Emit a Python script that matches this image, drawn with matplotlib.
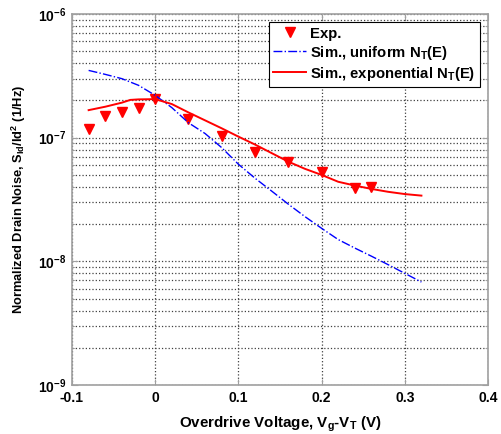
import matplotlib
matplotlib.use("Agg")
import matplotlib.pyplot as plt
from matplotlib.ticker import LogLocator, FixedLocator, NullFormatter

# experimental points
exp_v = [-0.08, -0.06, -0.04, -0.02, 0.0, 0.04, 0.08, 0.12, 0.16, 0.20, 0.24, 0.26]
exp_s = [1.17e-7, 1.5e-7, 1.62e-7, 1.73e-7, 2.05e-7, 1.41e-7, 1.03e-7, 7.6e-8, 6.3e-8, 5.3e-8, 3.94e-8, 4.0e-8]

# simulation, uniform trap distribution
uni_v = [-0.08, -0.06, -0.04, -0.02, 0.0, 0.02, 0.04, 0.06, 0.08, 0.10, 0.12, 0.14, 0.16,
         0.18, 0.20, 0.22, 0.24, 0.26, 0.28, 0.30, 0.32]
uni_s = [3.5e-7, 3.25e-7, 3.0e-7, 2.65e-7, 2.2e-7, 1.75e-7, 1.32e-7, 1.08e-7, 8.3e-8, 6.1e-8,
         4.7e-8, 3.7e-8, 2.9e-8, 2.3e-8, 1.85e-8, 1.5e-8, 1.28e-8, 1.1e-8, 9.4e-9, 8.0e-9, 6.8e-9]

# simulation, exponential trap distribution
expo_v = [-0.08, -0.06, -0.04, -0.03, -0.02, 0.0, 0.02, 0.04, 0.06, 0.08, 0.10, 0.12, 0.14,
          0.16, 0.18, 0.20, 0.22, 0.24, 0.26, 0.28, 0.30, 0.32]
expo_s = [1.67e-7, 1.78e-7, 1.92e-7, 2.02e-7, 2.04e-7, 2.05e-7, 1.87e-7, 1.6e-7, 1.38e-7,
          1.19e-7, 1.02e-7, 8.8e-8, 7.5e-8, 6.4e-8, 5.6e-8, 5.0e-8, 4.4e-8, 4.1e-8, 3.85e-8,
          3.65e-8, 3.5e-8, 3.4e-8]

x_ticks = [-0.1, 0, 0.1, 0.2, 0.3, 0.4]
x_ticklabels = ["-0.1", "0", "0.1", "0.2", "0.3", "0.4"]

plt.rcParams.update({
    "font.family": "Liberation Sans",
    "font.weight": "bold",
    "mathtext.fontset": "custom",
    "mathtext.rm": "Liberation Sans:bold",
    "mathtext.it": "Liberation Sans:bold",
    "mathtext.bf": "Liberation Sans:bold",
    "mathtext.default": "regular",
})

fig = plt.figure(figsize=(5.01, 4.34), dpi=100)
fig.patch.set_facecolor("white")
ax = fig.add_axes([0.1437, 0.1129, 0.8303, 0.8548])

ax.set_yscale("log")
ax.set_xlim(-0.1, 0.4)
ax.set_ylim(1e-9, 1e-6)

ax.plot(exp_v, exp_s, linestyle="none", marker="v", color="#ff0000", markersize=7,
        label="Exp.")
ax.plot(uni_v, uni_s, linestyle="-.", color="#0000ff", lw=1.0,
        label=r"Sim., uniform N$_T$(E)")
ax.plot(expo_v, expo_s, linestyle="-", color="#ff0000", lw=1.4,
        label=r"Sim., exponential N$_T$(E)")

ax.xaxis.set_major_locator(FixedLocator(x_ticks))
ax.set_xticklabels(x_ticklabels)
ax.yaxis.set_major_locator(LogLocator(base=10, numticks=10))
ax.yaxis.set_minor_locator(LogLocator(base=10, subs=range(2, 10), numticks=20))
ax.yaxis.set_minor_formatter(NullFormatter())

ax.grid(True, which="major", axis="both", color="#404040", linestyle=":", lw=0.9)
ax.grid(True, which="minor", axis="y", color="#404040", linestyle=":", lw=0.9)
ax.set_axisbelow(True)

for sp in ax.spines.values():
    sp.set_color("#a0a0a0")
    sp.set_linewidth(1.2)
ax.tick_params(which="both", direction="in", top=True, right=True, colors="#a0a0a0",
               labelcolor="black", labelsize=10)
ax.tick_params(which="major", length=4)
ax.tick_params(which="minor", length=2)
ax.tick_params(axis="x", pad=4)
ax.tick_params(axis="y", pad=4)

ax.set_xlabel(r"Overdrive Voltage, V$_g$-V$_T$ (V)", fontsize=10.9, fontweight="bold", labelpad=7)
ax.set_ylabel(r"Normalized Drain Noise, S$_{Id}$/Id$^2$ (1/Hz)", fontsize=9.3,
              fontweight="bold", labelpad=7)

leg = ax.legend(loc="upper right", bbox_to_anchor=(0.981, 0.978), borderaxespad=0,
                fancybox=False, edgecolor="black", framealpha=1, fontsize=10.7,
                handlelength=2.2, handletextpad=0.3, labelspacing=0.2, borderpad=0.3)
leg.get_frame().set_linewidth(0.8)

fig.savefig("out.png", dpi=100, facecolor="white")
